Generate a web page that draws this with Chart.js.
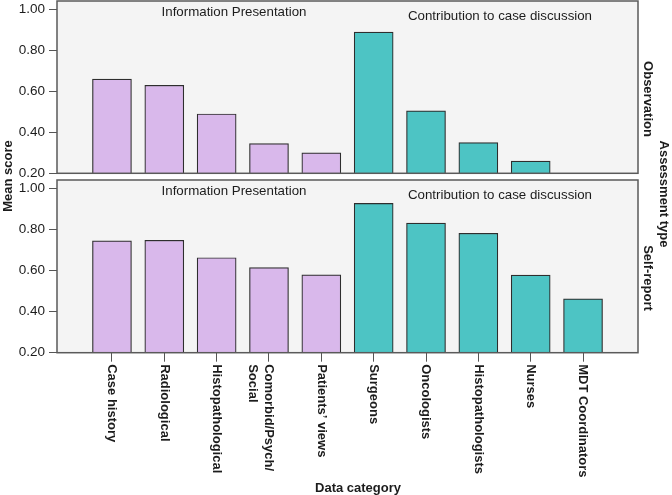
<!DOCTYPE html>
<html>
<head>
<meta charset="utf-8">
<script src="https://cdn.jsdelivr.net/npm/chart.js@4/dist/chart.umd.min.js"></script>
<style>
html,body{margin:0;padding:0;background:#ffffff;}
#wrap{position:relative;width:672px;height:495px;overflow:hidden;}
canvas{position:absolute;left:0;top:0;}
</style>
</head>
<body>
<div id="wrap">
<canvas id="bot" width="672" height="495"></canvas>
<canvas id="top" width="672" height="495"></canvas>
</div>
<script>
// ---- data ----
const categories = ['Case history', 'Radiological', 'Histopathological', ['Comorbid/Psych/', 'Social'], 'Patients\u2019 views',
                    'Surgeons', 'Oncologists', 'Histopathologists', 'Nurses', 'MDT Coordinators'];
const groupOf = [0, 0, 0, 0, 0, 1, 1, 1, 1, 1];
const groupNames = ['Information Presentation', 'Contribution to case discussion'];
const observation = [0.66, 0.63, 0.49, 0.345, 0.30, 0.89, 0.505, 0.35, 0.26, null];
const selfReport  = [0.745, 0.748, 0.663, 0.615, 0.58, 0.928, 0.832, 0.782, 0.578, 0.463];
const yTicks = [0.20, 0.40, 0.60, 0.80, 1.00];
const panelNames = ['Observation', 'Self-report'];
const xTitle = 'Data category';
const yTitle = 'Mean score';
const rightTitle = 'Assessment type';

// ---- styles ----
const groupColors = ['#d9b8eb', '#4dc4c4'];
const FONT = "'Liberation Sans', Arial, Helvetica, sans-serif";
const TEXT = '#1c1c1c';
Chart.defaults.font.family = FONT;

const panelPlugin = {
  id: 'panel',
  beforeDraw(chart) {
    const {ctx, chartArea: a} = chart;
    ctx.save();
    ctx.fillStyle = '#f4f4f4';
    ctx.fillRect(a.left, a.top, a.right - a.left, a.bottom - a.top);
    ctx.restore();
  },
  afterDatasetsDraw(chart, args, opts) {
    const {ctx, chartArea: a} = chart;
    ctx.save();
    ctx.strokeStyle = '#5a5a5a';
    ctx.lineWidth = 1.5;
    ctx.strokeRect(a.left, a.top, a.right - a.left, a.bottom - a.top);

    ctx.fillStyle = TEXT;
    ctx.font = '13.3px ' + FONT;
    ctx.textAlign = 'center';
    ctx.textBaseline = 'middle';
    ctx.fillText(groupNames[0], a.left + 177, a.top + 11);
    ctx.fillText(groupNames[1], a.left + 443, a.top + 15);

    ctx.font = 'bold 13px ' + FONT;
    ctx.save();
    ctx.translate(a.right + 10, a.top + 98);
    ctx.rotate(Math.PI / 2);
    ctx.fillText(opts.name, 0, 0);
    ctx.restore();

    if (opts.bottom) {
      const xs = chart.scales.x;
      categories.forEach((c, i) => {
        const lines = Array.isArray(c) ? c : [c];
        ctx.save();
        ctx.translate(xs.getPixelForValue(i), a.bottom + 11.5);
        ctx.rotate(Math.PI / 2);
        ctx.textAlign = 'left';
        ctx.textBaseline = 'middle';
        lines.forEach((l, j) => ctx.fillText(l, 0, j * 16));
        ctx.restore();
      });
      ctx.textAlign = 'center';
      ctx.fillText(xTitle, 358, 488);
      ctx.save();
      ctx.translate(8, 176);
      ctx.rotate(-Math.PI / 2);
      ctx.fillText(yTitle, 0, 0);
      ctx.restore();
      ctx.save();
      ctx.translate(664, 194);
      ctx.rotate(Math.PI / 2);
      ctx.fillText(rightTitle, 0, 0);
      ctx.restore();
    }
    ctx.restore();
  }
};

function makeChart(id, values, name, bottom) {
  const data = values.map((v, i) => ({x: i, y: v}));
  return new Chart(document.getElementById(id), {
    type: 'bar',
    data: {
      datasets: [{
        data: data,
        backgroundColor: groupOf.map(g => groupColors[g]),
        borderColor: '#2e2e2e',
        borderWidth: 1.2,
        borderSkipped: false,
        barThickness: 39
      }]
    },
    options: {
      responsive: false,
      animation: false,
      devicePixelRatio: 1,
      layout: {padding: {left: 0, right: 34, top: bottom ? 180 : 1, bottom: bottom ? 0 : 495 - 173.3}},
      plugins: {legend: {display: false}, tooltip: {enabled: false}, panel: {name: name, bottom: bottom}},
      scales: {
        x: {
          type: 'linear', min: -1.05, max: 10.05, offset: false,
          display: bottom,
          afterBuildTicks: s => { s.ticks = categories.map((c, i) => ({value: i})); },
          afterFit: s => { s.height = bottom ? 495 - 352.7 : 0; s.paddingLeft = 0; s.paddingRight = 0; },
          grid: {offset: false, drawOnChartArea: false, drawTicks: true, tickLength: 9, color: '#555', lineWidth: 1},
          border: {display: false},
          ticks: {autoSkip: false, maxRotation: 0, callback: () => ''}
        },
        y: {
          min: 0.2, max: 1.042,
          afterBuildTicks: s => { s.ticks = yTicks.map(v => ({value: v})); },
          afterFit: s => { s.width = 57; s.paddingTop = 0; s.paddingBottom = 0; },
          grid: {drawOnChartArea: false, drawTicks: true, tickLength: 8, color: '#555', lineWidth: 1},
          border: {display: false},
          ticks: {padding: 4, color: TEXT, font: {size: 13.5}, callback: v => Number(v).toFixed(2)}
        }
      }
    },
    plugins: [panelPlugin]
  });
}

makeChart('top', observation, panelNames[0], false);
makeChart('bot', selfReport, panelNames[1], true);
</script>
</body>
</html>
